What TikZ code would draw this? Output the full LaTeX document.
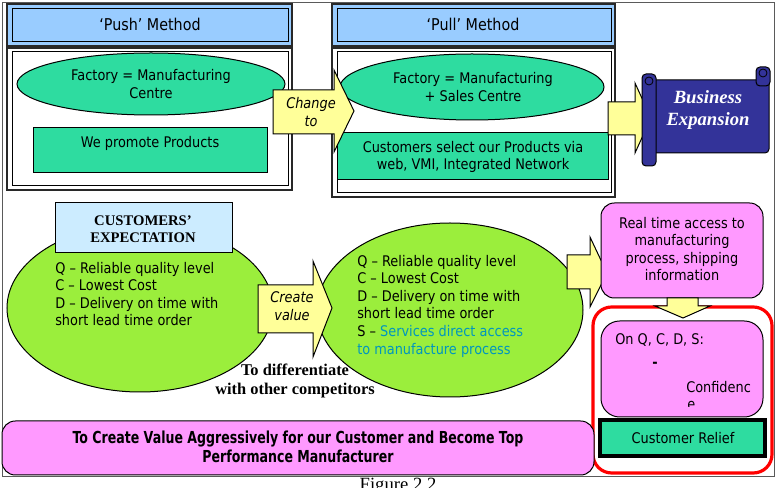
\documentclass[tikz,border=0pt]{standalone}
\usepackage{fontspec}
\setmainfont{Liberation Serif}
\newfontfamily\tahoma{DejaVu Sans}[FakeStretch=0.88]
\newfontfamily\tahomanarrow{DejaVu Sans}[FakeStretch=0.76]

\begin{document}
\begin{tikzpicture}[x=0.75pt,y=0.75pt,yscale=-1,
	txt/.style={inner sep=0.75pt, align=center, font=\tahoma\fontsize{11}{13.2}\selectfont},
	hdr/.style={draw={rgb, 255:red, 40; green, 40; blue, 40 }, line width=1.3, fill={rgb, 255:red, 153; green, 204; blue, 255 }},
	panel/.style={draw={rgb, 255:red, 40; green, 40; blue, 40 }, line width=1.3, fill=white},
	inline/.style={draw=black, line width=0.75},
	seagreen/.style={draw=black, line width=0.75, fill={rgb, 255:red, 46; green, 220; blue, 160 }},
	lime/.style={draw=black, line width=0.75, fill={rgb, 255:red, 155; green, 238; blue, 60 }},
	pinkbox/.style={draw=black, line width=0.75, fill={rgb, 255:red, 255; green, 153; blue, 255 }, rounded corners=10},
	yarrow/.style={draw=black, line width=0.75, fill={rgb, 255:red, 255; green, 255; blue, 153 }},
	scroll/.style={draw=black, line width=0.75, fill={rgb, 255:red, 51; green, 51; blue, 153 }, rounded corners=3}
	]
	%uncomment if require: \path (0,488); %set diagram left start at 0, and has height of 488
	\useasboundingbox (0,0) rectangle (776,488);
	
	%Shape: Rectangle [id:frame] 
	\draw  [color={rgb, 255:red, 90; green, 90; blue, 90 }, line width=0.75]  (2,3) -- (774,3) -- (774,477) -- (2,477) -- cycle ;
	
	%Shape: Rectangle [id:pushhead] 
	\draw  [hdr]  (7,4) -- (292,4) -- (292,46) -- (7,46) -- cycle ;
	\draw  [inline]  (12,9) -- (288,9) -- (288,42) -- (12,42) -- cycle ;
	%Shape: Rectangle [id:pushbody] 
	\draw  [panel]  (7,48) -- (292,48) -- (292,190) -- (7,190) -- cycle ;
	\draw  [inline]  (12,52) -- (288,52) -- (288,186) -- (12,186) -- cycle ;
	%Shape: Ellipse [id:pushfactory] 
	\draw  [seagreen]  (151,84) ellipse [x radius=134, y radius=31] ;
	%Shape: Rectangle [id:promote] 
	\draw  [seagreen]  (33,128) -- (267,128) -- (267,173) -- (33,173) -- cycle ;
	
	%Shape: Rectangle [id:pullhead] 
	\draw  [hdr]  (332,4) -- (615,4) -- (615,46) -- (332,46) -- cycle ;
	\draw  [inline]  (337,9) -- (611,9) -- (611,42) -- (337,42) -- cycle ;
	%Shape: Rectangle [id:pullbody] 
	\draw  [panel]  (332,48) -- (615,48) -- (615,197) -- (332,197) -- cycle ;
	\draw  [inline]  (337,52) -- (611,52) -- (611,193) -- (337,193) -- cycle ;
	%Shape: Ellipse [id:pullfactory] 
	\draw  [seagreen]  (472,87) ellipse [x radius=132, y radius=33] ;
	%Shape: Rectangle [id:select] 
	\draw  [seagreen]  (337,133) -- (608,133) -- (608,180) -- (337,180) -- cycle ;
	
	%Shape: Right Arrow [id:changeto] 
	\draw  [yarrow]  (273,90) -- (334,90) -- (334,70) -- (354,111) -- (334,152) -- (334,134) -- (273,134) -- cycle ;
	%Shape: Right Arrow [id:toexpand] 
	\draw  [yarrow]  (608,102) -- (635,102) -- (635,83) -- (651,118) -- (635,153) -- (635,135) -- (608,135) -- cycle ;
	
	%Shape: Scroll [id:business] 
	\draw  [scroll]  (650,80) -- (769,80) -- (769,153) -- (650,153) -- cycle ;
	\draw  [scroll]  (756,67) -- (770,67) -- (770,86) -- (756,86) -- cycle ;
	\draw  [draw=black, line width=0.6]  (763,73) circle [radius=4] ;
	\draw  [scroll]  (642,74) -- (656,74) -- (656,166) -- (642,166) -- cycle ;
	\draw  [draw=black, line width=0.6]  (649,81) circle [radius=4] ;
	
	%Shape: Ellipse [id:expectation] 
	\draw  [lime]  (140,308) ellipse [x radius=133, y radius=84] ;
	%Shape: Rectangle [id:custexp] 
	\draw  [draw=black, line width=0.75, fill={rgb, 255:red, 204; green, 236; blue, 255 }]  (55,203) -- (232,203) -- (232,253) -- (55,253) -- cycle ;
	
	%Shape: Ellipse [id:valueadded] 
	\draw  [lime]  (450,310) ellipse [x radius=133, y radius=87] ;
	%Shape: Right Arrow [id:createvalue] 
	\draw  [yarrow]  (258,285) -- (313,285) -- (313,261) -- (332,308) -- (313,357) -- (313,333) -- (258,333) -- cycle ;
	%Shape: Right Arrow [id:torealtime] 
	\draw  [yarrow]  (567,255) -- (590,255) -- (590,237) -- (607,273) -- (590,307) -- (590,289) -- (567,289) -- cycle ;
	
	%Shape: Rounded Rect [id:realtime] 
	\draw  [pinkbox]  (601,203) -- (763,203) -- (763,298) -- (601,298) -- cycle ;
	%Shape: Rounded Rect [id:relief] 
	\draw  [draw=red, line width=2.4, rounded corners=14]  (593,307) -- (772,307) -- (772,473) -- (593,473) -- cycle ;
	%Shape: Down Arrow [id:down] 
	\draw  [yarrow]  (667,298) -- (698,298) -- (698,306) -- (710,306) -- (683,318) -- (655,306) -- (667,306) -- cycle ;
	%Shape: Rounded Rect [id:onqcds] 
	\draw  [pinkbox, rounded corners=14]  (601,321) -- (763,321) -- (763,417) -- (601,417) -- cycle ;
	%Shape: Rectangle [id:custrelief] 
	\draw  [seagreen, line width=3.6]  (600,420) -- (765,420) -- (765,456) -- (600,456) -- cycle ;
	
	%Shape: Rounded Rect [id:goal] 
	\draw  [pinkbox]  (2,421) -- (594,421) -- (594,475) -- (2,475) -- cycle ;
	
	% Text Node
	\draw (150,24) node (pushlbl) [txt, font=\tahoma\fontsize{12.2}{14}\selectfont]  {‘Push’ Method};
	% Text Node
	\draw (473,24) node (pulllbl) [txt, font=\tahoma\fontsize{12.2}{14}\selectfont]  {‘Pull’ Method};
	% Text Node
	\draw (151,84) node (pushfac) [txt]  {Factory = Manufacturing\\Centre};
	% Text Node
	\draw (150,143) node (promote) [txt]  {We promote Products};
	% Text Node
	\draw (473,87) node (pullfac) [txt]  {Factory = Manufacturing\\+ Sales Centre};
	% Text Node
	\draw (473,157) node (selects) [txt]  {Customers select our Products via\\web, VMI, Integrated Network};
	% Text Node
	\draw (311,112) node (change) [txt, font=\tahoma\itshape\fontsize{11}{13.2}\selectfont]  {Change\\to};
	% Text Node
	\draw (708,110) node (bizexp) [inner sep=0.75pt, align=center, text=white, font=\bfseries\itshape\fontsize{14}{16}\selectfont]  {Business\\Expansion};
	% Text Node
	\draw (143,229) node (expect) [inner sep=0.75pt, align=center, font=\bfseries\fontsize{11}{13}\selectfont]  {CUSTOMERS’\\EXPECTATION};
	% Text Node
	\draw (54,294) node (qcd) [txt, anchor=west, align=left]  {Q – Reliable quality level\\C – Lowest Cost\\D – Delivery on time with\\short lead time order};
	% Text Node
	\draw (292,306) node (create) [txt, font=\tahoma\itshape\fontsize{11}{13.2}\selectfont]  {Create\\value};
	% Text Node
	\draw (356,306) node (qcds) [txt, anchor=west, align=left]  {Q – Reliable quality level\\C – Lowest Cost\\D – Delivery on time with\\short lead time order\\S – \textcolor[RGB]{0,150,190}{Services direct access}\\\textcolor[RGB]{0,150,190}{to manufacture process}};
	% Text Node
	\draw (295,381) node (differ) [inner sep=0.75pt, align=center, font=\bfseries\fontsize{12.3}{14}\selectfont]  {To differentiate\\with other competitors};
	% Text Node
	\draw (682,249) node (access) [txt]  {Real time access to\\manufacturing\\process, shipping\\information};
	% Text Node
	\draw (614,340) node (onq) [txt, anchor=west]  {On Q, C, D, S:};
	% Text Node
	\draw (655,365) node (dash) [txt, font=\tahoma\bfseries\fontsize{11}{13.2}\selectfont]  {-};
	% Text Node
	\draw (685,387) node (confid) [txt, anchor=west]  {Confidenc};
	\begin{scope}
		\clip (601,395) rectangle (763,406.5);
		% Text Node
		\draw (686,410) node (confide) [txt, anchor=base west]  {e};
	\end{scope}
	% Text Node
	\draw (683,438) node (relieflbl) [txt]  {Customer Relief};
	% Text Node
	\draw (298,447) node (goallbl) [inner sep=0.75pt, align=center, font=\tahomanarrow\bfseries\fontsize{12.4}{14}\selectfont]  {To Create Value Aggressively for our Customer and Become Top\\Performance Manufacturer};
	% Text Node
	\draw (398,491) node (caption) [inner sep=0pt, anchor=base, font=\fontsize{14}{16}\selectfont]  {Figure 2.2};
	
\end{tikzpicture}
\end{document}
